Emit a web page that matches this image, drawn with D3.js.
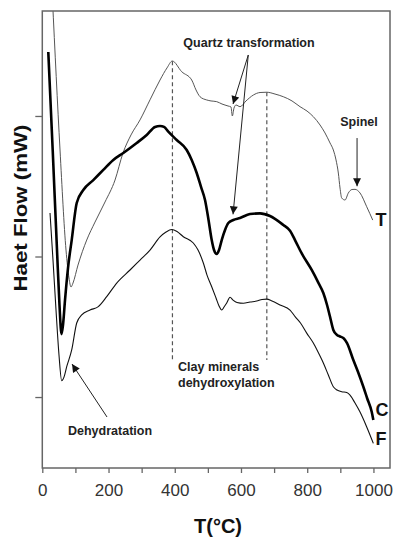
<!DOCTYPE html>
<html>
<head>
<meta charset="utf-8">
<script src="https://cdn.jsdelivr.net/npm/d3@7"></script>
<style>
  html, body { margin: 0; padding: 0; background: #fff; }
  svg { display: block; font-family: "Liberation Sans", Arial, Helvetica, sans-serif; }
</style>
</head>
<body>
<svg id="chart" width="402" height="537"></svg>
<script>
// DSC heat-flow traces of three clay samples (T, C, F) versus temperature.
// Each trace: [temperature °C, heat flow in arbitrary mW units]
const seriesT = [
  [30.5, 38.4], [53.5, 27.58], [71.6, 20.46], [80.6, 18.47], [86.7, 17.83], [92.7, 18.11],
  [107.8, 19.39], [134.1, 21.17], [159.2, 22.45], [189.4, 23.88], [219.6, 25.44], [243.7, 27.37],
  [267.9, 28.65], [295.1, 29.72], [325.3, 31.15], [355.5, 32.56], [376.6, 33.42], [392.6, 33.91],
  [421.0, 33.15], [451.2, 32.56], [464.2, 31.85], [476.3, 31.37], [496.5, 31.14], [509.5, 31.07],
  [526.7, 31.02], [542.7, 30.85], [560.9, 30.71], [569.9, 30.64], [573.8, 30.0], [579.0, 30.57],
  [585.0, 30.78], [597.1, 30.66], [615.2, 31.07], [637.3, 31.49], [657.5, 31.67], [677.7, 31.69],
  [702.8, 31.56], [727.9, 31.37], [754.1, 31.07], [778.3, 30.66], [799.4, 30.35], [818.5, 29.95],
  [838.7, 29.36], [853.8, 28.79], [868.9, 28.08], [878.9, 27.58], [887.0, 26.87], [894.0, 25.94],
  [899.1, 24.87], [904.2, 24.16], [914.2, 24.02], [924.2, 24.52], [935.3, 24.77], [944.4, 24.78],
  [959.5, 24.52], [979.7, 23.54], [997.9, 22.59]
];
const seriesC = [
  [18.1, 34.55], [31.4, 27.58], [44.4, 20.46], [51.9, 16.55], [58.0, 14.48], [62.5, 15.12],
  [68.6, 16.90], [77.6, 19.18], [88.8, 21.17], [103.9, 23.81], [123.8, 24.73], [154.0, 25.44],
  [184.2, 26.16], [214.4, 26.87], [244.6, 27.37], [285.1, 28.08], [315.3, 28.65], [340.4, 29.22],
  [355.5, 29.29], [367.6, 29.22], [380.5, 28.88], [405.9, 28.29], [436.1, 27.58], [451.2, 26.87],
  [466.3, 25.94], [479.3, 24.95], [491.4, 24.02], [502.0, 22.60], [511.6, 21.17], [518.6, 20.46],
  [526.7, 20.18], [533.7, 20.46], [541.8, 21.17], [551.8, 21.89], [561.8, 22.38], [576.8, 22.60],
  [597.1, 22.74], [627.3, 23.02], [657.5, 23.07], [687.7, 22.88], [727.9, 22.24], [748.1, 21.84],
  [764.6, 21.10], [784.3, 20.18], [813.6, 19.04], [832.7, 18.18], [848.7, 17.40], [859.9, 16.55],
  [868.9, 15.71], [878.9, 14.77], [890.1, 14.41], [899.1, 14.31], [909.1, 14.20], [920.3, 13.84],
  [939.3, 12.63], [953.5, 11.78], [969.5, 10.73], [980.7, 9.93], [994.9, 8.93], [999.7, 8.36]
];
const seriesF = [
  [23.3, 23.10], [32.3, 19.75], [41.4, 16.19], [50.4, 12.99], [58.6, 11.16], [65.5, 11.42],
  [73.7, 12.16], [88.8, 13.35], [103.9, 15.27], [119.0, 15.84], [144.1, 16.19], [169.1, 16.43],
  [194.5, 17.14], [224.7, 18.11], [264.9, 19.04], [295.1, 19.75], [325.3, 20.46], [355.5, 21.39],
  [373.6, 21.74], [390.8, 21.92], [406.8, 21.78], [425.9, 21.41], [456.0, 20.96], [470.3, 20.46],
  [486.3, 19.54], [497.4, 18.68], [511.6, 17.85], [524.6, 17.05], [533.7, 16.48], [541.8, 16.19],
  [548.8, 16.41], [556.9, 16.69], [566.9, 17.10], [576.0, 16.90], [588.0, 16.73], [607.1, 16.67],
  [627.3, 16.76], [647.5, 16.83], [663.5, 16.94], [677.7, 16.97], [693.7, 16.83], [717.9, 16.55],
  [748.1, 16.19], [764.6, 15.69], [779.7, 15.27], [798.5, 14.55], [818.5, 13.84], [832.7, 13.20],
  [848.7, 12.42], [863.8, 11.57], [878.9, 10.73], [890.1, 10.50], [904.2, 10.38], [919.3, 10.32],
  [929.3, 10.14], [944.4, 9.57], [959.5, 8.93], [979.7, 7.87], [999.7, 6.70]
];

const xTicks = [0, 200, 400, 600, 800, 1000];
const xMinorTicks = [0, 100, 200, 300, 400, 500, 600, 700, 800, 900, 1000];
const yTicks = [10, 20, 30];

// dehydroxylation peaks marked by dashed guides (°C)
const clayPeaks = [393, 678];
const clayGuideBottom = 12.63;

const svg = d3.select("#chart");
const margin = { left: 42.3, right: 390, top: 11, bottom: 468 };

const x = d3.scaleLinear().domain([0, 1050]).range([margin.left, margin.right]);
const y = d3.scaleLinear().domain([4.95, 37.47]).range([margin.bottom, margin.top]);

svg.append("defs").append("clipPath").attr("id", "plot-clip")
  .append("rect")
  .attr("x", margin.left).attr("y", margin.top)
  .attr("width", margin.right - margin.left).attr("height", margin.bottom - margin.top);

svg.append("defs").append("marker")
  .attr("id", "arrowhead")
  .attr("viewBox", "0 0 10 10")
  .attr("refX", 10).attr("refY", 5)
  .attr("markerWidth", 9).attr("markerHeight", 8)
  .attr("markerUnits", "userSpaceOnUse")
  .attr("orient", "auto")
  .append("path").attr("d", "M0,0 L10,5 L0,10 Z").attr("fill", "#111");

// dashed guides from the T trace down to the label
const interpT = T => {
  const i = d3.bisector(d => d[0]).left(seriesT, T);
  const a = seriesT[Math.max(0, i - 1)], b = seriesT[Math.min(seriesT.length - 1, i)];
  if (a[0] === b[0]) return a[1];
  return a[1] + (b[1] - a[1]) * (T - a[0]) / (b[0] - a[0]);
};
svg.append("g").selectAll("line").data(clayPeaks).join("line")
  .attr("x1", d => x(d)).attr("x2", d => x(d))
  .attr("y1", d => y(interpT(d))).attr("y2", y(clayGuideBottom))
  .attr("stroke", "#555").attr("stroke-width", 1.2).attr("stroke-dasharray", "4,3");

// traces
const line = d3.line().x(d => x(d[0])).y(d => y(d[1])).curve(d3.curveMonotoneX);
const traces = svg.append("g").attr("clip-path", "url(#plot-clip)");
traces.append("path").datum(seriesT).attr("d", line)
  .attr("fill", "none").attr("stroke", "#555").attr("stroke-width", 1);
traces.append("path").datum(seriesF).attr("d", line)
  .attr("fill", "none").attr("stroke", "#111").attr("stroke-width", 1.1);
traces.append("path").datum(seriesC).attr("d", line)
  .attr("fill", "none").attr("stroke", "#000").attr("stroke-width", 2.6);

// frame
svg.append("rect")
  .attr("x", margin.left).attr("y", margin.top)
  .attr("width", margin.right - margin.left).attr("height", margin.bottom - margin.top)
  .attr("fill", "none").attr("stroke", "#666").attr("stroke-width", 1.5);

// bottom axis
const xAxisMinor = d3.axisBottom(x).tickValues(xMinorTicks).tickSize(5).tickFormat("");
const gxm = svg.append("g").attr("transform", `translate(0,${margin.bottom})`).call(xAxisMinor);
gxm.select(".domain").remove();
gxm.selectAll(".tick line").attr("stroke", "#666").attr("stroke-width", 1.3);

const xAxis = d3.axisBottom(x).tickValues(xTicks).tickSize(0).tickPadding(16).tickFormat(d3.format("d"));
const gx = svg.append("g").attr("transform", `translate(0,${margin.bottom})`).call(xAxis);
gx.select(".domain").remove();
gx.selectAll(".tick text")
  .attr("font-size", 17).attr("fill", "#333")
  .attr("font-family", "'Liberation Sans', Arial, sans-serif");

// left axis (unlabelled ticks)
const yAxis = d3.axisLeft(y).tickValues(yTicks).tickSize(7).tickFormat("");
const gy = svg.append("g").attr("transform", `translate(${margin.left},0)`).call(yAxis);
gy.select(".domain").remove();
gy.selectAll(".tick line").attr("stroke", "#666").attr("stroke-width", 1.3);

// axis titles
svg.append("text")
  .attr("transform", `translate(27,208) rotate(-90)`)
  .attr("text-anchor", "middle")
  .attr("font-size", 19).attr("font-weight", "bold").attr("fill", "#111")
  .attr("textLength", 167).attr("lengthAdjust", "spacingAndGlyphs")
  .text("Haet Flow (mW)");
svg.append("text")
  .attr("x", 218).attr("y", 533)
  .attr("text-anchor", "middle")
  .attr("font-size", 20).attr("font-weight", "bold").attr("fill", "#111")
  .text("T(°C)");

// trace labels
const traceLabels = [
  { name: "T", T: 1000, v: 22.59, dy: 6 },
  { name: "C", T: 1000, v: 8.36, dy: -4 },
  { name: "F", T: 1000, v: 6.70, dy: 2 }
];
svg.append("g").selectAll("text").data(traceLabels).join("text")
  .attr("x", d => x(d.T) + 2).attr("y", d => y(d.v) + d.dy)
  .attr("font-size", 18).attr("font-weight", "bold").attr("fill", "#111")
  .text(d => d.name);

// annotations
const note = (tx, ty, lines, anchor) => {
  const t = svg.append("text")
    .attr("x", tx).attr("y", ty)
    .attr("text-anchor", anchor || "start")
    .attr("font-size", 12.5).attr("font-weight", "bold").attr("fill", "#222");
  lines.forEach((s, i) => t.append("tspan").attr("x", tx).attr("dy", i ? 16 : 0).text(s));
};
const arrow = (t0, v0, t1, v1) => svg.append("line")
  .attr("x1", x(t0)).attr("y1", y(v0)).attr("x2", x(t1)).attr("y2", y(v1))
  .attr("stroke", "#222").attr("stroke-width", 1)
  .attr("marker-end", "url(#arrowhead)");

note(249, 47, ["Quartz transformation"], "middle");
arrow(622, 34.34, 576, 30.85);
arrow(622, 34.34, 576, 23.0);

note(359, 126, ["Spinel"], "middle");
arrow(950.5, 28.43, 950.5, 25.0);

note(178, 371, ["Clay minerals", "dehydroxylation"]);

note(68, 435, ["Dehydratation"]);
arrow(195.4, 8.58, 89.7, 12.35);
</script>
</body>
</html>
